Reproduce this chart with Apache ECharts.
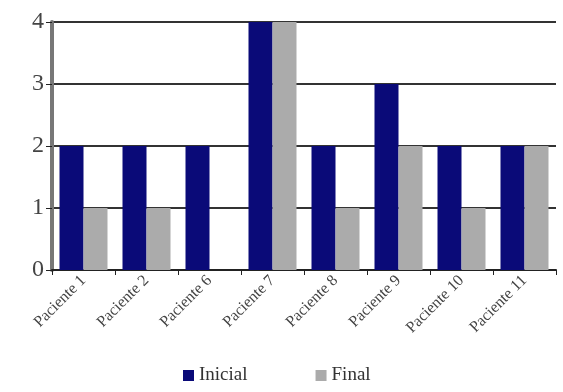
<!DOCTYPE html>
<html>
<head>
<meta charset="utf-8">
<script src="https://cdn.jsdelivr.net/npm/echarts@6/dist/echarts.min.js"></script>
<style>
  html, body { margin: 0; padding: 0; background: #fff; }
  #chart { width: 563px; height: 392px; }
</style>
</head>
<body>
<div id="chart"></div>
<script>
// categorias (pacientes)
const pacientes = ['Paciente 1', 'Paciente 2', 'Paciente 6', 'Paciente 7', 'Paciente 8', 'Paciente 9', 'Paciente 10', 'Paciente 11']
// valores
const inicial = [2, 2, 2, 4, 2, 3, 2, 2]
const final = [1, 1, 0, 4, 1, 2, 1, 2]
const yTicks = [0, 1, 2, 3, 4]

const myChart = echarts.init(document.getElementById('chart'))

const serif = '"Liberation Serif", "DejaVu Serif", serif'

const option = {
  animation: false,
  backgroundColor: '#fff',
  grid: {
    left: 52,
    right: 7,
    top: 22,
    bottom: 122
  },
  legend: {
    data: ['Inicial', 'Final'],
    bottom: 2,
    left: 178,
    itemGap: 68,
    itemWidth: 11,
    itemHeight: 11,
    icon: 'rect',
    textStyle: { // fonte da legenda
      fontFamily: serif,
      fontSize: 19,
      color: '#333'
    }
  },
  xAxis: {
    type: 'category',
    data: pacientes,
    axisLine: { lineStyle: { color: '#222', width: 2 } },
    axisTick: { show: true, length: 5, lineStyle: { color: '#222' } },
    axisLabel: {
      rotate: 45,
      interval: 0,
      fontFamily: serif,
      fontSize: 16,
      color: '#444',
      margin: 8
    }
  },
  yAxis: {
    type: 'value',
    min: yTicks[0],
    max: yTicks[yTicks.length - 1],
    interval: 1,
    axisLine: { show: true, lineStyle: { color: '#777', width: 4 } },
    axisTick: { show: true, length: 6, lineStyle: { color: '#222' } },
    axisLabel: {
      fontFamily: serif,
      fontSize: 24,
      color: '#444',
      margin: 8
    },
    splitLine: { // linhas de grade escuras
      lineStyle: { color: '#333', width: 2 }
    }
  },
  series: [
    {
      name: 'Inicial',
      type: 'bar',
      data: inicial,
      barWidth: 24,
      barGap: '0%',
      itemStyle: { color: '#0a0a78' }
    },
    {
      name: 'Final',
      type: 'bar',
      data: final,
      barWidth: 24,
      itemStyle: { color: '#ababab' }
    }
  ]
}

myChart.setOption(option)
</script>
</body>
</html>
